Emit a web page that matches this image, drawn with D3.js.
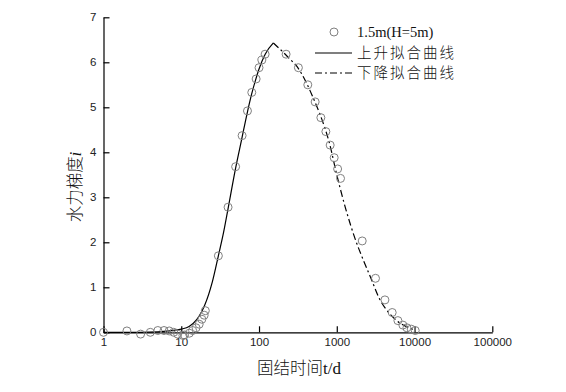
<!DOCTYPE html>
<html><head><meta charset="utf-8">
<script src="https://cdn.jsdelivr.net/npm/d3@7"></script>
<style>
html,body{margin:0;padding:0;background:#fff;}
svg{display:block;}
.tick text{font-family:"Liberation Sans",Arial,sans-serif;font-size:11.5px;fill:#222;}
</style></head>
<body>
<svg id="c" width="566" height="392"></svg>
<script>
// Observed data: 1.5m (H=5m)
const obsT = [1,2,3,4,5,6,7,8,9,10.5,11,12.7,14,15.5,17,18.4,19.7,20.4,30,40,50,60.6,71,80.7,91.8,100,108.7,119.8,223,321,424,527,624,724,822,926,1025,1117,2123,3148,4160,5160,6110,7080,7980,9060,10200];
const obsI = [0,0.03,-0.04,0,0.04,0.04,0.03,0,-0.04,-0.07,-0.06,-0.02,0.04,0.1,0.18,0.29,0.38,0.48,1.70,2.78,3.68,4.37,4.92,5.33,5.63,5.88,6.05,6.18,6.18,5.88,5.5,5.12,4.77,4.46,4.16,3.88,3.63,3.42,2.03,1.2,0.72,0.44,0.26,0.16,0.10,0.07,0.04];
// Rising fitted curve
const riseT = [1,3,5,7,10,12.6,15.8,18.2,20,25.1,30,35,40,50,60,70,80,90,100,120,153];
const riseI = [0,0,0.01,0.03,0.07,0.13,0.28,0.45,0.6,1.12,1.7,2.22,2.75,3.65,4.3,4.85,5.28,5.6,5.85,6.18,6.43];
// Falling fitted curve
const fallT = [153,200,250,300,400,500,600,700,800,1000,1300,1760,2200,2750,3600,4760,6000,8000,10000];
const fallI = [6.43,6.24,6.07,5.93,5.57,5.2,4.87,4.55,4.22,3.5,2.75,2.03,1.6,1.2,0.72,0.42,0.25,0.12,0.05];
// Ticks and labels
const xMajor = [1,10,100,1000,10000,100000];
const yMajor = [0,1,2,3,4,5,6,7];
const legendLabels = ["1.5m(H=5m)","上升拟合曲线","下降拟合曲线"];
const xTitle = "固结时间";
const xTitleUnit = "t/d";
const yTitle = "水力梯度";
const yTitleVar = "i";

const svg = d3.select("#c");
const x = d3.scaleLog().domain([1,100000]).range([103.5,492.3]);
const y = d3.scaleLinear().domain([0,7]).range([332.3,17.3]);

// minor x ticks
const xMinor = [];
for (let d=1; d<100000; d*=10) for (let k=2;k<=9;k++) xMinor.push(d*k);
const yMinor = d3.range(0.5,7,1);

const gx = svg.append("g").attr("transform","translate(0,332.3)");
gx.call(d3.axisBottom(x).tickValues(xMinor).tickSize(-3).tickFormat(""));
gx.call(d3.axisBottom(x).tickValues(xMajor).tickSize(-6).tickSizeOuter(0).tickPadding(6).tickFormat(d3.format("d")));
gx.selectAll("path,line").attr("stroke","#000").attr("stroke-width",1.2);

const gy = svg.append("g").attr("transform","translate(103.5,0)");
gy.call(d3.axisLeft(y).tickValues(yMinor).tickSize(-3).tickFormat(""));
gy.call(d3.axisLeft(y).tickValues(yMajor).tickSize(-6).tickSizeOuter(0).tickPadding(7).tickFormat(d3.format("d")));
gy.selectAll("path,line").attr("stroke","#000").attr("stroke-width",1.2);

// curves
const line = d3.line().x(d=>x(d[0])).y(d=>y(d[1])).curve(d3.curveMonotoneX);
svg.append("path").datum(riseT.map((t,i)=>[t,riseI[i]]))
  .attr("d",line).attr("fill","none").attr("stroke","#000").attr("stroke-width",1.2);
svg.append("path").datum(fallT.map((t,i)=>[t,fallI[i]]))
  .attr("d",line).attr("fill","none").attr("stroke","#000").attr("stroke-width",1.2)
  .attr("stroke-dasharray","7,3,2,3");

// observed points
svg.append("g").selectAll("circle").data(obsT.map((t,i)=>[t,obsI[i]])).join("circle")
  .attr("cx",d=>x(d[0])).attr("cy",d=>y(d[1])).attr("r",4)
  .attr("fill","none").attr("stroke","#808080").attr("stroke-width",1);

// legend
const lg = svg.append("g");
lg.append("circle").attr("cx",334).attr("cy",32).attr("r",4).attr("fill","none").attr("stroke","#808080");
lg.append("line").attr("x1",315).attr("x2",352).attr("y1",53).attr("y2",53).attr("stroke","#000").attr("stroke-width",1.2);
lg.append("line").attr("x1",315).attr("x2",352).attr("y1",73).attr("y2",73).attr("stroke","#000").attr("stroke-width",1.2).attr("stroke-dasharray","7,3,2,3");
lg.append("text").attr("x",357).attr("y",37).text(legendLabels[0])
  .attr("font-family",'"Liberation Serif",serif').attr("font-size",14.5).attr("fill","#111");
lg.append("text").attr("x",357).attr("y",58).text(legendLabels[1])
  .attr("font-family",'"Noto Sans CJK SC",sans-serif').attr("font-size",14.5).attr("letter-spacing",2).attr("font-weight",300).attr("fill","#111");
lg.append("text").attr("x",357).attr("y",78).text(legendLabels[2])
  .attr("font-family",'"Noto Sans CJK SC",sans-serif').attr("font-size",14.5).attr("letter-spacing",2).attr("font-weight",300).attr("fill","#111");

// axis titles
const xt = svg.append("text").attr("x",299).attr("y",374).attr("text-anchor","middle")
  .attr("font-family",'"Noto Sans CJK SC",sans-serif').attr("font-size",16.5).attr("font-weight",300).attr("fill","#111");
xt.append("tspan").text(xTitle);
xt.append("tspan").text(xTitleUnit).attr("font-family",'"Liberation Serif",serif').attr("font-size",17);

const yt = svg.append("text").attr("transform","translate(81,187) rotate(-90)").attr("text-anchor","middle")
  .attr("font-family",'"Noto Sans CJK SC",sans-serif').attr("font-size",16.5).attr("font-weight",300).attr("fill","#111");
yt.append("tspan").text(yTitle);
yt.append("tspan").text(yTitleVar).attr("font-family",'"Liberation Serif",serif').attr("font-style","italic").attr("font-size",17);
</script>
</body></html>
